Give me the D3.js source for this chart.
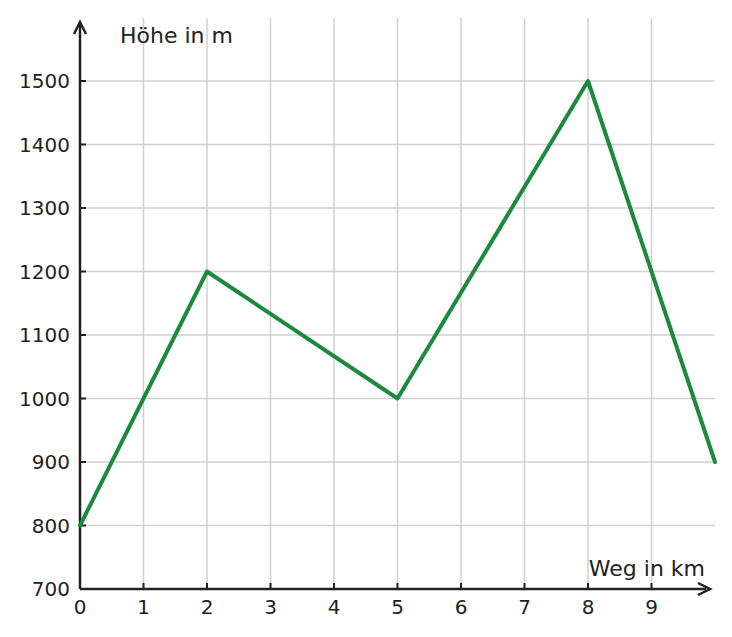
<!DOCTYPE html>
<html><head><meta charset="utf-8">
<script src="https://cdn.jsdelivr.net/npm/d3@7"></script>
<style>body{margin:0;background:#fff}text{font-family:"DejaVu Sans",sans-serif;fill:#222}</style>
</head><body><div id="container"></div>
<script>
// Höhenprofil
const wegKm = [0, 2, 5, 8, 10]
const hoeheM = [800, 1200, 1000, 1500, 900]
const xTicks = [0, 1, 2, 3, 4, 5, 6, 7, 8, 9]
const yTicks = [700, 800, 900, 1000, 1100, 1200, 1300, 1400, 1500]

const svg = d3.select("#container").append("svg")
  .attr("width", 732).attr("height", 637)

const x = d3.scaleLinear().domain([0, 10]).range([80, 715])
const y = d3.scaleLinear().domain([700, 1500]).range([589, 81])

// grid
svg.append("g").selectAll("line").data(d3.range(1, 10)).enter().append("line")
  .attr("x1", d => x(d)).attr("x2", d => x(d))
  .attr("y1", 18).attr("y2", 589)
  .attr("stroke", "#d0d0d0").attr("stroke-width", 1.5)
svg.append("g").selectAll("line").data(yTicks.slice(1)).enter().append("line")
  .attr("x1", 80).attr("x2", 715)
  .attr("y1", d => y(d)).attr("y2", d => y(d))
  .attr("stroke", "#d0d0d0").attr("stroke-width", 1.5)

// axes
const axisColor = "#222"
svg.append("line").attr("x1", 80).attr("x2", 80).attr("y1", 589).attr("y2", 24)
  .attr("stroke", axisColor).attr("stroke-width", 2.5)
svg.append("path").attr("d", "M74,34 L80,22 L86,34").attr("fill", "none")
  .attr("stroke", axisColor).attr("stroke-width", 2.5)
svg.append("line").attr("x1", 80).attr("x2", 706).attr("y1", 589).attr("y2", 589)
  .attr("stroke", axisColor).attr("stroke-width", 2.5)
svg.append("path").attr("d", "M698,583 L710,589 L698,595").attr("fill", "none")
  .attr("stroke", axisColor).attr("stroke-width", 2.5)

// ticks
xTicks.forEach(t => {
  if (t > 0) svg.append("line").attr("x1", x(t)).attr("x2", x(t)).attr("y1", 583).attr("y2", 589)
    .attr("stroke", axisColor).attr("stroke-width", 2)
  svg.append("text").attr("x", x(t)).attr("y", 614).attr("text-anchor", "middle")
    .attr("font-size", 20).text(t)
})
yTicks.forEach(t => {
  if (t > 700) svg.append("line").attr("x1", 80).attr("x2", 86).attr("y1", y(t)).attr("y2", y(t))
    .attr("stroke", axisColor).attr("stroke-width", 2)
  svg.append("text").attr("x", 70).attr("y", y(t) + 7).attr("text-anchor", "end")
    .attr("font-size", 20).text(t)
})

svg.append("text").attr("x", 120).attr("y", 43).attr("font-size", 22).text("Höhe in m")
svg.append("text").attr("x", 705).attr("y", 576).attr("text-anchor", "end")
  .attr("font-size", 22).text("Weg in km")

// line
const line = d3.line().x((d, i) => x(wegKm[i])).y(d => y(d))
svg.append("path").datum(hoeheM).attr("d", line)
  .attr("fill", "none").attr("stroke", "#1b8a3f").attr("stroke-width", 4)
  .attr("stroke-linejoin", "round").attr("stroke-linecap", "round")
</script></body></html>
